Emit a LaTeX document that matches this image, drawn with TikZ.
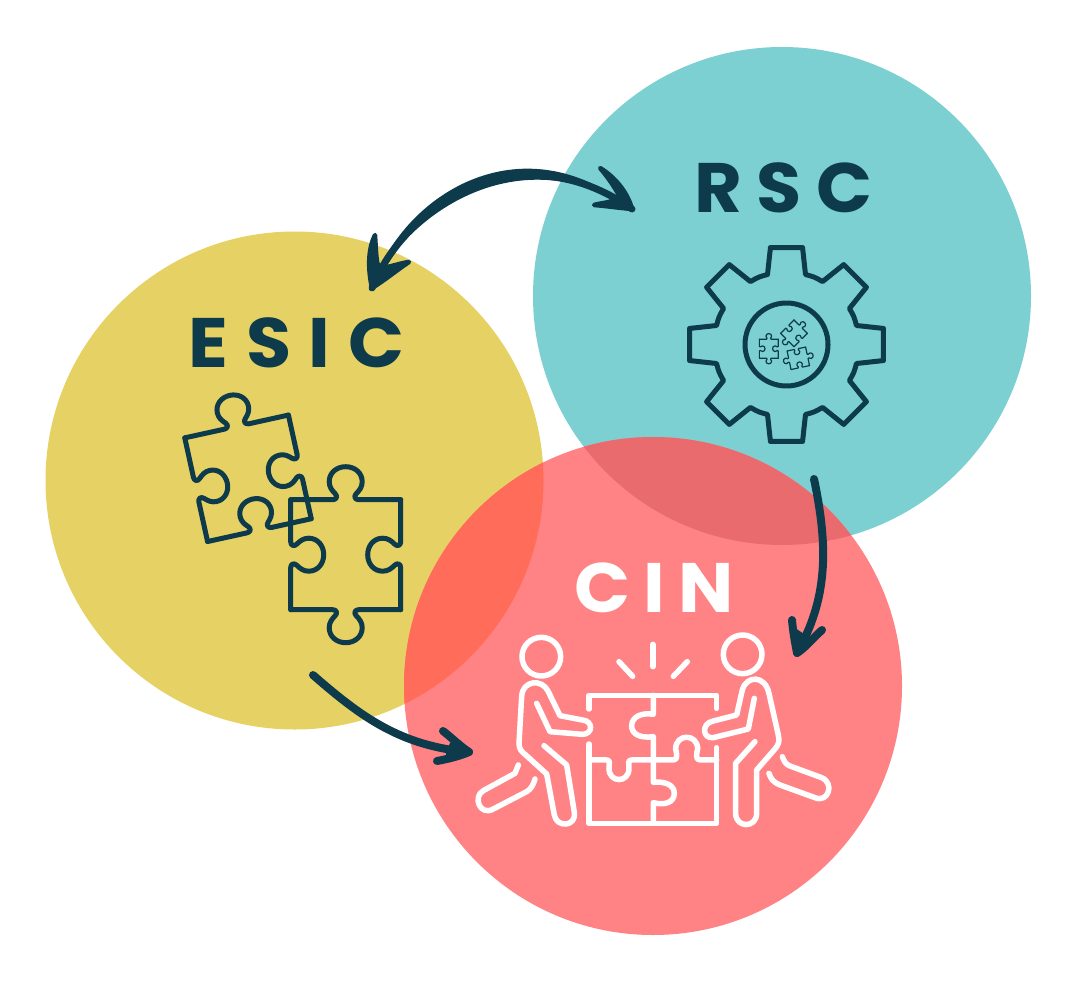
\documentclass[tikz,border=0pt]{standalone}
\usepackage{fontspec}
\newfontfamily\lab{Poppins}[FakeStretch=1.05]
\definecolor{ink}{HTML}{0D3B4C}
\definecolor{yel}{HTML}{E6D164}
\definecolor{teal2}{HTML}{7CD0D2}
\definecolor{red2}{HTML}{FF8385}
\definecolor{yelred}{HTML}{FF6C5A}
\definecolor{tealred}{HTML}{E96B6E}
\tikzset{
  disc/.style={circle,inner sep=0pt,minimum size=498pt,fill=#1},
  title/.style={anchor=base,inner sep=0pt,font=\lab\bfseries\fontsize{70}{70}\selectfont,text=#1},
  brush/.style={draw=ink,fill=ink,line join=round,line cap=round,line width=4.5pt},
  stroke/.style={draw=ink,line cap=round,line join=round,line width=#1},
  wline/.style={draw=white,line width=5.5pt,line cap=round,line join=round},
  zoomA/.style={shift={(465,625)},x=0.3333pt,y=-0.3333pt}
}
\newcommand\edgeO[2]{\draw[rotate=#1,stroke=#2] (-55,-55) -- (-13,-55) .. controls (-9,-55) and (-8,-58.5) .. (-10.5,-61) .. controls (-14,-64.5) and (-16.5,-68) .. (-16.5,-73) .. controls (-16.5,-82) and (-9,-88) .. (0,-88) .. controls (9,-88) and (16.5,-82) .. (16.5,-73) .. controls (16.5,-68) and (14,-64.5) .. (10.5,-61) .. controls (8,-58.5) and (9,-55) .. (13,-55) -- (55,-55);}
\newcommand\edgeI[2]{\draw[rotate=#1,stroke=#2] (-55,-55) -- (-13,-55) .. controls (-9,-55) and (-8,-51.5) .. (-10.5,-49) .. controls (-14,-45.5) and (-16.5,-42) .. (-16.5,-37) .. controls (-16.5,-28) and (-9,-22) .. (0,-22) .. controls (9,-22) and (16.5,-28) .. (16.5,-37) .. controls (16.5,-42) and (14,-45.5) .. (10.5,-49) .. controls (8,-51.5) and (9,-55) .. (13,-55) -- (55,-55);}
\newcommand\pzA[4]{\begin{scope}[shift={(#1)},rotate=#2,scale=#3]\edgeO{0}{#4}\edgeI{90}{#4}\edgeO{180}{#4}\edgeI{270}{#4}\end{scope}}
\newcommand\pzB[4]{\begin{scope}[shift={(#1)},rotate=#2,scale=#3]\edgeO{0}{#4}\edgeI{90}{#4}\edgeI{180}{#4}\edgeI{270}{#4}\end{scope}}
\begin{document}
\begin{tikzpicture}[x=1pt,y=-1pt]
\useasboundingbox (0,0) rectangle (1089,992);
% discs
\node[disc=yel] (esic) at (294.5,480.5) {};
\node[disc=teal2] (rsc) at (782,296) {};
\node[disc=red2] (cin) at (653,686) {};
\begin{scope}
  \clip (653,686) circle (249);
  \fill[yelred] (294.5,480.5) circle (249);
  \fill[tealred] (782,296) circle (249);
\end{scope}
% titles
\node[title=ink] (esicT) at (296.5,367) {\addfontfeature{LetterSpace=25}ESIC};
\node[title=ink] (rscT) at (783.5,213) {\addfontfeature{LetterSpace=21}RSC};
\node[title=white] (cinT) at (654.5,612) {\addfontfeature{LetterSpace=19}CIN};
% ESIC puzzle
\pzB{248,478.3}{12.4}{0.965}{5pt}
\pzA{345.7,554.7}{0}{1}{5pt}
% gear
\begin{scope}[shift={(786.5,344.5)}]
  \draw[stroke=5pt] (-105.2:72.5)
    \foreach \a in {0,45,...,315} {
      -- (\a-15.2-90:72.5) -- (\a-9.4-90:98.3) -- (\a+9.4-90:98.3) -- (\a+15.2-90:72.5)
      .. controls (\a+22.5-90:73.1) .. (\a+29.8-90:72.5)
    };
  \draw[stroke=5pt] (0,0) circle (41.5);
\end{scope}
\pzA{768.8,348.7}{0}{0.172}{1.2pt}
\pzA{794,333.3}{-45}{0.172}{1.2pt}
\pzA{798.3,358.3}{102}{0.172}{1.2pt}
% CIN icon
\begin{scope}[zoomA]
  \draw[wline] (229,95) circle (58);
  \draw[wline] (833,88) circle (58);
  % left person
  \draw[wline] (215,235) -- (255,320) -- (352,328) .. controls (385,328) and (385,287) .. (352,285) -- (285,272) -- (250,200) .. controls (232,160) and (172,165) .. (170,215) -- (162,355) .. controls (162,372) and (170,380) .. (180,388) -- (245,447) -- (268,570) .. controls (275,610) and (335,605) .. (328,562) -- (305,420) -- (237,362);
  \draw[wline] (160,420) -- (150,445) -- (55,497) .. controls (22,515) and (45,575) .. (85,552) -- (185,500) .. controls (198,492) and (205,480) .. (210,462);
  % right person
  \draw[wline] (868,220) -- (850,312) -- (745,338) .. controls (712,342) and (708,295) .. (745,288) -- (815,270) -- (832,195) .. controls (845,150) and (900,150) .. (912,205) -- (940,330) .. controls (945,350) and (940,360) .. (930,372) -- (875,435) -- (875,565) .. controls (875,610) and (812,610) .. (812,565) -- (812,415) -- (870,350);
  \draw[wline] (952,395) .. controls (958,410) and (962,418) .. (975,423) -- (1070,458) .. controls (1110,475) and (1090,535) .. (1050,518) -- (945,480) .. controls (925,472) and (918,462) .. (912,445);
  % sparks
  \draw[wline] (564,58) -- (564,125);
  \draw[wline] (462,110) -- (503,154);
  \draw[wline] (667,110) -- (625,154);
  % puzzle
  \draw[wline] (372,252) -- (372,211) -- (755,211) -- (755,250);
  \draw[wline] (372,357) -- (372,595) -- (755,595) -- (755,368);
  \draw[wline] (565,211) -- (565,268) .. controls (530,262) and (500,275) .. (500,303) .. controls (500,330) and (530,340) .. (565,335) -- (565,472) .. controls (600,468) and (628,480) .. (628,505) .. controls (628,532) and (600,542) .. (565,533) -- (565,595);
  \draw[wline] (372,405) -- (425,405) .. controls (437,405) and (432,415) .. (432,430) .. controls (432,475) and (492,475) .. (492,430) .. controls (492,415) and (487,405) .. (500,405) -- (625,405) .. controls (640,405) and (635,385) .. (632,372) .. controls (632,325) and (698,325) .. (698,372) .. controls (695,385) and (690,405) .. (705,405) -- (755,405);
\end{scope}
% arrows
\coordinate (ltip) at (372,288);
\coordinate (rtip) at (632,209);
\coordinate (s2) at (814,479);
\coordinate (t2) at (797,653);
\coordinate (s3) at (313,675);
\coordinate (t3) at (469,752);
\draw[stroke=7pt] (ltip) .. controls (405,205) and (520,130) .. (rtip);
\fill[ink] (ltip) .. controls (400,197) and (520,118) .. (rtip) .. controls (520,137) and (409,211) .. cycle;
\path[brush] (ltip) .. controls (367,265) and (369,247) .. (375,235) .. controls (376,250) and (376,262) .. (379,268) .. controls (388,268) and (400,263) .. (409,262) .. controls (397,270) and (385,280) .. (ltip) -- cycle;
\path[brush] (rtip) .. controls (627,190) and (612,175) .. (600,168) .. controls (607,176) and (614,186) .. (620,197) .. controls (612,203) and (600,203) .. (594,205) .. controls (606,206) and (620,208) .. (rtip) -- cycle;
\draw[stroke=8pt] (s2) .. controls (829,550) and (827,600) .. (t2);
\draw[stroke=8pt] (792,620) .. controls (793,632) and (795,642) .. (t2) .. controls (805,648) and (813,638) .. (822,630);
\path[brush] (t2) -- (794,630) -- (803,636) -- cycle;
\draw[stroke=8pt] (s3) .. controls (360,716) and (400,746) .. (t3);
\draw[stroke=8pt] (443,731) .. controls (452,738) and (460,746) .. (t3) .. controls (460,756) and (448,759) .. (437,761);
\path[brush] (t3) -- (452,744) -- (448,754) -- cycle;
\end{tikzpicture}
\end{document}
